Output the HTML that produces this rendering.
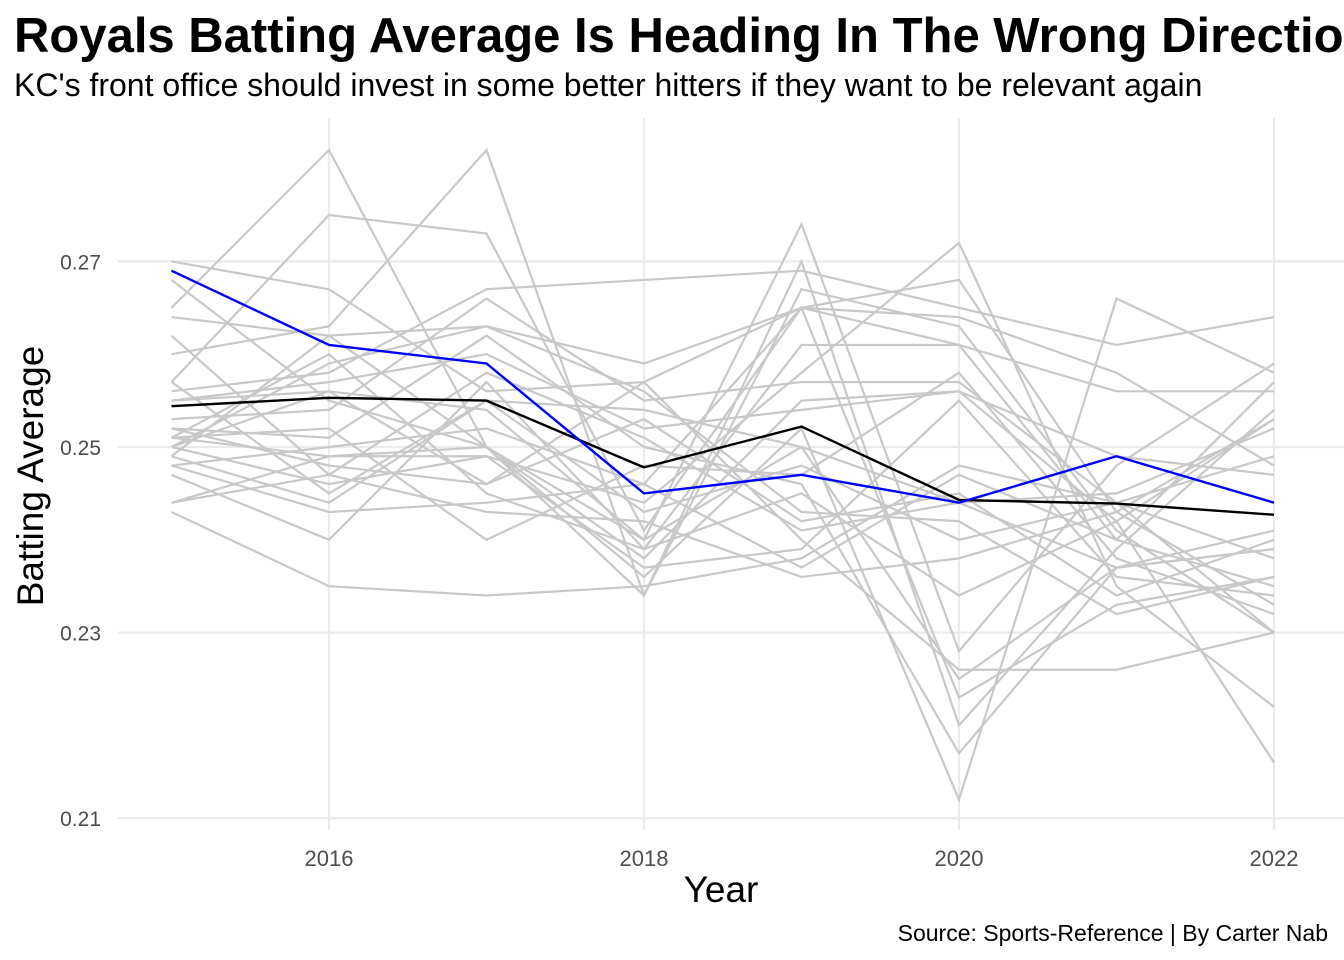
<!DOCTYPE html>
<html><head><meta charset="utf-8">
<style>
body{margin:0;background:#fff;font-family:"Liberation Sans",Arial,sans-serif;}
svg{display:block}
</style></head>
<body>
<svg id="chart" width="1344" height="960" viewBox="0 0 1344 960" xmlns="http://www.w3.org/2000/svg">
<text x="14" y="52" font-size="49" font-weight="bold" fill="#000">Royals Batting Average Is Heading In The Wrong Direction</text>
<text x="14" y="96" font-size="32" fill="#000">KC's front office should invest in some better hitters if they want to be relevant again</text>
<g id="grid"></g>
<g id="ticks"></g>
<g id="others"></g>
<g id="main"></g>
<text x="721" y="902" font-size="37" text-anchor="middle" fill="#000">Year</text>
<text transform="translate(43,476) rotate(-90)" font-size="37" text-anchor="middle" fill="#000">Batting Average</text>
<text x="1328" y="941" font-size="23" text-anchor="end" fill="#000">Source: Sports-Reference | By Carter Nab</text>
</svg>
<script>
const years=[2015,2016,2017,2018,2019,2020,2021,2022];
const yTicks=[0.21,0.23,0.25,0.27];
const xTicks=[2016,2018,2020,2022];
const royals=[0.269,0.261,0.259,0.245,0.247,0.244,0.249,0.244];
const leagueAvg=[0.2544,0.2553,0.255,0.2478,0.2522,0.2443,0.2439,0.2427];
const others=[
[0.270,0.267,0.256,0.257,0.265,0.264,0.258,0.248],
[0.265,0.282,0.250,0.240,0.274,0.228,0.248,0.259],
[0.264,0.262,0.263,0.259,0.265,0.261,0.256,0.256],
[0.260,0.263,0.282,0.234,0.270,0.220,0.239,0.254],
[0.257,0.275,0.273,0.241,0.265,0.268,0.243,0.233],
[0.256,0.258,0.267,0.268,0.269,0.265,0.261,0.264],
[0.255,0.257,0.260,0.252,0.254,0.256,0.242,0.253],
[0.253,0.254,0.266,0.255,0.257,0.257,0.244,0.230],
[0.252,0.251,0.262,0.250,0.246,0.217,0.237,0.241],
[0.251,0.260,0.245,0.239,0.261,0.261,0.240,0.257],
[0.251,0.249,0.250,0.236,0.252,0.212,0.266,0.258],
[0.250,0.246,0.249,0.244,0.258,0.272,0.235,0.222],
[0.250,0.256,0.246,0.257,0.240,0.226,0.226,0.230],
[0.249,0.244,0.255,0.254,0.250,0.225,0.237,0.239],
[0.248,0.243,0.244,0.246,0.265,0.223,0.233,0.236],
[0.247,0.240,0.257,0.239,0.245,0.234,0.242,0.216],
[0.244,0.247,0.243,0.242,0.236,0.238,0.243,0.253],
[0.244,0.249,0.249,0.237,0.239,0.255,0.236,0.234],
[0.243,0.235,0.234,0.235,0.238,0.248,0.244,0.249],
[0.268,0.255,0.250,0.234,0.267,0.263,0.241,0.230],
[0.251,0.252,0.240,0.248,0.247,0.258,0.238,0.232],
[0.250,0.259,0.263,0.256,0.243,0.242,0.232,0.236],
[0.255,0.256,0.254,0.240,0.250,0.244,0.245,0.252],
[0.262,0.247,0.258,0.251,0.241,0.244,0.237,0.239],
[0.248,0.250,0.252,0.246,0.237,0.247,0.240,0.235],
[0.257,0.245,0.255,0.243,0.248,0.240,0.244,0.238],
[0.249,0.262,0.250,0.238,0.255,0.256,0.249,0.247],
[0.252,0.248,0.246,0.253,0.242,0.245,0.234,0.240]
];
const X=y=>329+(y-2016)*157.5;
const Y=v=>447-(v-0.25)*9280;
const NS="http://www.w3.org/2000/svg";
function mk(tag,parent,attrs){const e=document.createElementNS(NS,tag);for(const k in attrs)e.setAttribute(k,attrs[k]);parent.appendChild(e);return e;}
const grid=document.getElementById('grid'),ticks=document.getElementById('ticks');
yTicks.forEach(t=>{
 const l=mk('line',grid,{x1:118,x2:1344,y1:Y(t),y2:Y(t),stroke:'#ebebeb','stroke-width':2.2});
 
 
 const tx=mk('text',ticks,{x:101,y:Y(t)+8,'font-size':21,'text-anchor':'end',fill:'#4d4d4d'});
 tx.textContent=String(t);
 
 
});
xTicks.forEach(t=>{
 const l=mk('line',grid,{x1:X(t),x2:X(t),y1:118,y2:830,stroke:'#ebebeb','stroke-width':2.2});
 
 
 const tx=mk('text',ticks,{x:X(t),y:866,'font-size':22,'text-anchor':'middle',fill:'#4d4d4d'});
 tx.textContent=String(t);
 
 
});
function pts(arr){return arr.map((v,i)=>X(years[i])+','+Y(v)).join(' ');}
const og=document.getElementById('others');
others.forEach(s=>{
 const p=mk('polyline',og,{points:pts(s),fill:'none',stroke:'#c8c8c8','stroke-width':2.2});
 
 
});
const mg=document.getElementById('main');
const a=mk('polyline',mg,{points:pts(leagueAvg),fill:'none',stroke:'#000','stroke-width':2.4});


const r=mk('polyline',mg,{points:pts(royals),fill:'none',stroke:'#0000ff','stroke-width':2.4});


</script>
</body></html>
